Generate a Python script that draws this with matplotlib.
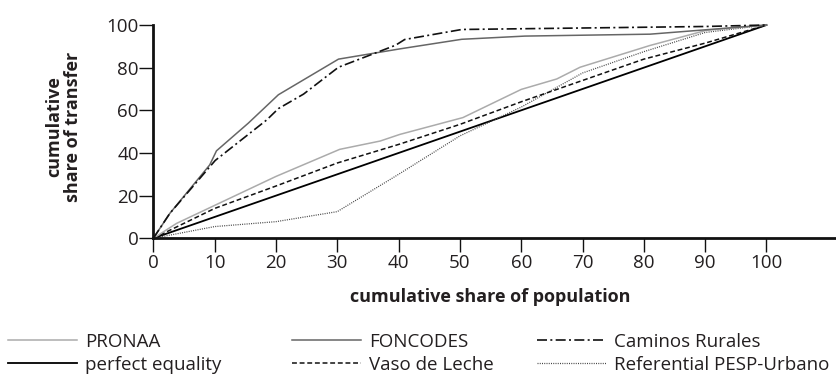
import matplotlib
matplotlib.use("Agg")
import matplotlib.pyplot as plt
from matplotlib.lines import Line2D

plt.rcParams['font.family'] = ['Open Sans', 'DejaVu Sans']

# Concentration curves: cumulative share of population (x) vs. cumulative share of transfer (y)
x_equality = [0, 100]
y_equality = [0, 100]

x_pronaa = [0, 3.8, 20, 30.4, 37, 40.2, 50.5, 60, 65.8, 69.6, 81, 90.2, 100]
y_pronaa = [0, 7.0, 29.0, 41.7, 45.6, 48.7, 56.6, 69.8, 74.7, 80.2, 90.4, 97.5, 100]

x_foncodes = [0, 2.7, 9.2, 10.3, 15.5, 20.4, 30.2, 40.2, 50.3, 60.6, 81, 100]
y_foncodes = [0, 11.7, 34.4, 41.0, 54.0, 67.3, 84.0, 88.8, 93.3, 94.8, 95.7, 100]

x_caminos = [0, 2.7, 10.1, 18.5, 20.4, 24.5, 30.2, 39.5, 41, 50.3, 90, 100]
y_caminos = [0, 11.7, 36.5, 55.5, 60.8, 67.6, 80.2, 90.5, 93.2, 97.9, 99.3, 100]

x_vaso = [0, 10, 20, 30, 40, 50, 60, 66, 80, 90, 100]
y_vaso = [0, 14.0, 24.5, 35.3, 44.0, 53.4, 64.0, 70.0, 84.0, 91.5, 100]

x_referential = [0, 10, 20, 30, 40, 50, 60, 70, 80, 90, 100]
y_referential = [0, 5.5, 7.8, 12.5, 30.0, 48.0, 61.5, 77.5, 87.5, 96.5, 100]

x_ticks = [0, 10, 20, 30, 40, 50, 60, 70, 80, 90, 100]
y_ticks = [0, 20, 40, 60, 80, 100]

W, H = 837, 376
fig = plt.figure(figsize=(W / 100, H / 100), dpi=100)
ax_left, ax_bottom_px, ax_top_px = 153.3, 238.3, 25.0
ax = fig.add_axes([ax_left / W, 1 - ax_bottom_px / H, 1 - ax_left / W,
                   (ax_bottom_px - ax_top_px) / H])

styles = {
    'PRONAA': dict(color='#ababab', lw=1.1, ls='-'),
    'FONCODES': dict(color='#666666', lw=1.1, ls='-'),
    'Caminos Rurales': dict(color='#111111', lw=1.2, ls=(0, (6, 2, 1.2, 2))),
    'perfect equality': dict(color='#000000', lw=1.3, ls='-'),
    'Vaso de Leche': dict(color='#111111', lw=1.1, ls=(0, (3.2, 1.8))),
    'Referential PESP-Urbano': dict(color='#444444', lw=0.9, ls=(0, (0.8, 1.0))),
}

series = [
    ('perfect equality', x_equality, y_equality),
    ('Referential PESP-Urbano', x_referential, y_referential),
    ('Vaso de Leche', x_vaso, y_vaso),
    ('PRONAA', x_pronaa, y_pronaa),
    ('FONCODES', x_foncodes, y_foncodes),
    ('Caminos Rurales', x_caminos, y_caminos),
]
for name, xs, ys in series:
    ax.plot(xs, ys, clip_on=False, **styles[name])

ax.set_xlim(0, 111.5)
ax.set_ylim(0, 100)
ax.set_xticks(x_ticks)
ax.set_yticks(y_ticks)
for side in ('top', 'right'):
    ax.spines[side].set_visible(False)
for side in ('left', 'bottom'):
    ax.spines[side].set_linewidth(2.0)
    ax.spines[side].set_color('#111111')
ax.tick_params(axis='both', length=10, width=1.0, color='#111111',
               labelsize=13.5, labelcolor='#231f20')
ax.tick_params(axis='y', pad=0.5)
ax.tick_params(axis='x', pad=1.5)

fig.text(63.5 / W, 1 - 127 / H, 'cumulative\nshare of transfer', rotation=90,
         ha='center', va='center', fontsize=13, fontweight='bold',
         color='#231f20', multialignment='center', linespacing=1.05)
fig.text(490 / W, 1 - 297 / H, 'cumulative share of population',
         ha='center', va='center', fontsize=13, fontweight='bold',
         color='#231f20')

# Legend: three columns of two entries each
columns = [
    (8, ['PRONAA', 'perfect equality']),
    (292, ['FONCODES', 'Vaso de Leche']),
    (537, ['Caminos Rurales', 'Referential PESP-Urbano']),
]
for x0, names in columns:
    handles = [Line2D([], [], **styles[n]) for n in names]
    fig.legend(handles, names, loc='upper left',
               bbox_to_anchor=(x0 / W, 1 - 333 / H), frameon=False,
               fontsize=13.5, handlelength=3.7, handletextpad=0.42,
               labelspacing=0.24, borderpad=0, borderaxespad=0,
               labelcolor='#231f20')

fig.savefig('out.png', dpi=100)
